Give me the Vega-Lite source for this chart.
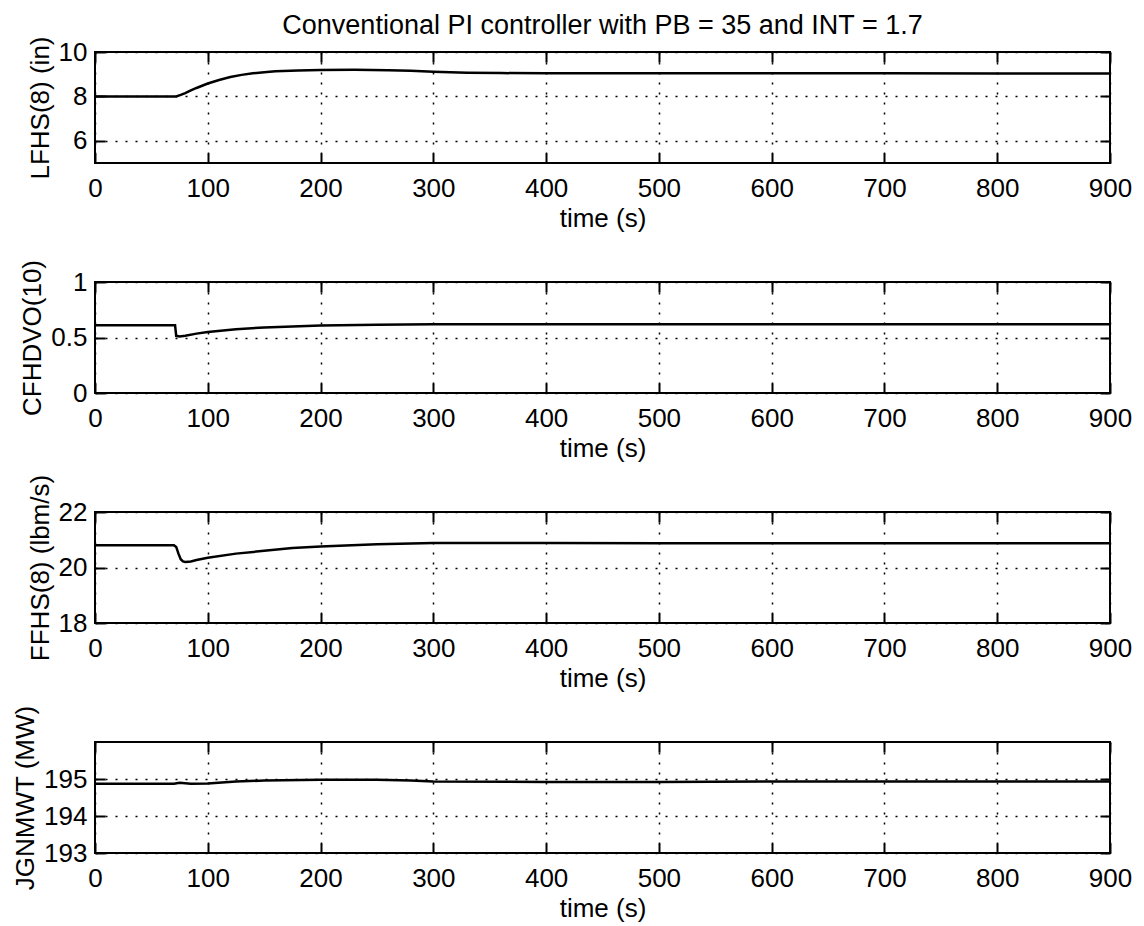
{
  "$schema": "https://vega.github.io/schema/vega-lite/v6.json",
  "background": "white",
  "padding": {"left": 11, "top": 10, "right": 0, "bottom": 0},
  "bounds": "flush",
  "spacing": 119,
  "datasets": {
    "p1": [
      {"t": 0, "v": 8.0}, {"t": 72, "v": 8.0}, {"t": 76, "v": 8.07}, {"t": 80, "v": 8.15}, {"t": 85, "v": 8.27},
      {"t": 90, "v": 8.38}, {"t": 95, "v": 8.48}, {"t": 100, "v": 8.58}, {"t": 110, "v": 8.74}, {"t": 120, "v": 8.87},
      {"t": 130, "v": 8.97}, {"t": 140, "v": 9.04}, {"t": 150, "v": 9.09}, {"t": 160, "v": 9.13}, {"t": 180, "v": 9.17},
      {"t": 200, "v": 9.19}, {"t": 230, "v": 9.2}, {"t": 260, "v": 9.18}, {"t": 280, "v": 9.15}, {"t": 300, "v": 9.11},
      {"t": 330, "v": 9.07}, {"t": 360, "v": 9.05}, {"t": 400, "v": 9.04}, {"t": 500, "v": 9.04}, {"t": 600, "v": 9.04},
      {"t": 700, "v": 9.04}, {"t": 800, "v": 9.03}, {"t": 900, "v": 9.03}
    ],
    "p2": [
      {"t": 0, "v": 0.61}, {"t": 71, "v": 0.61}, {"t": 72, "v": 0.515}, {"t": 75, "v": 0.51}, {"t": 80, "v": 0.515},
      {"t": 90, "v": 0.535}, {"t": 100, "v": 0.55}, {"t": 125, "v": 0.575}, {"t": 150, "v": 0.59}, {"t": 175, "v": 0.6},
      {"t": 200, "v": 0.607}, {"t": 250, "v": 0.615}, {"t": 300, "v": 0.62}, {"t": 400, "v": 0.62}, {"t": 500, "v": 0.62},
      {"t": 600, "v": 0.62}, {"t": 700, "v": 0.62}, {"t": 800, "v": 0.62}, {"t": 900, "v": 0.62}
    ],
    "p3": [
      {"t": 0, "v": 20.8}, {"t": 70, "v": 20.8}, {"t": 72, "v": 20.74}, {"t": 74, "v": 20.5}, {"t": 76, "v": 20.3},
      {"t": 78, "v": 20.22}, {"t": 80, "v": 20.2}, {"t": 85, "v": 20.22}, {"t": 90, "v": 20.27}, {"t": 100, "v": 20.35},
      {"t": 125, "v": 20.5}, {"t": 150, "v": 20.6}, {"t": 175, "v": 20.7}, {"t": 200, "v": 20.76}, {"t": 250, "v": 20.84},
      {"t": 300, "v": 20.88}, {"t": 400, "v": 20.88}, {"t": 500, "v": 20.87}, {"t": 600, "v": 20.87}, {"t": 700, "v": 20.87},
      {"t": 800, "v": 20.87}, {"t": 900, "v": 20.87}
    ],
    "p4": [
      {"t": 0, "v": 194.87}, {"t": 70, "v": 194.87}, {"t": 75, "v": 194.9}, {"t": 85, "v": 194.87}, {"t": 100, "v": 194.88},
      {"t": 125, "v": 194.93}, {"t": 150, "v": 194.96}, {"t": 200, "v": 194.98}, {"t": 250, "v": 194.98}, {"t": 280, "v": 194.96},
      {"t": 300, "v": 194.93}, {"t": 400, "v": 194.92}, {"t": 500, "v": 194.92}, {"t": 600, "v": 194.93}, {"t": 700, "v": 194.93},
      {"t": 800, "v": 194.93}, {"t": 900, "v": 194.93}
    ]
  },
  "vconcat": [
    {
      "data": {"name": "p1"},
      "width": 1015, "height": 111,
      "title": {"text": "Conventional PI controller with PB = 35 and INT = 1.7", "font": "Liberation Sans", "fontSize": 27, "fontWeight": "normal", "color": "black", "anchor": "middle", "baseline": "alphabetic", "frame": "group", "offset": -25},
      "layer": [
        {"mark": {"type": "line", "color": "black", "strokeWidth": 2.5},
         "encoding": {
           "x": {"field": "t", "type": "quantitative", "scale": {"domain": [0, 900]}, "axis": {"title": "time (s)", "values": [0,100,200,300,400,500,600,700,800,900], "grid": true}},
           "y": {"field": "v", "type": "quantitative", "scale": {"domain": [5, 10]}, "axis": {"title": "LFHS(8) (in)", "values": [6, 8, 10], "grid": true, "orient": "left", "labelPadding": 18}}
         }},
        {"mark": {"type": "line", "opacity": 0},
         "encoding": {
           "x": {"field": "t", "type": "quantitative", "axis": {"orient": "top", "title": null, "labels": false, "grid": false, "values": [0,100,200,300,400,500,600,700,800,900]}},
           "y": {"field": "v", "type": "quantitative", "axis": {"orient": "right", "title": null, "labels": false, "grid": false, "values": [6, 8, 10]}}
         }}
      ],
      "resolve": {"axis": {"x": "independent", "y": "independent"}}
    },
    {
      "data": {"name": "p2"},
      "width": 1015, "height": 111,
      "layer": [
        {"mark": {"type": "line", "color": "black", "strokeWidth": 2.5},
         "encoding": {
           "x": {"field": "t", "type": "quantitative", "scale": {"domain": [0, 900]}, "axis": {"title": "time (s)", "values": [0,100,200,300,400,500,600,700,800,900], "grid": true}},
           "y": {"field": "v", "type": "quantitative", "scale": {"domain": [0, 1]}, "axis": {"title": "CFHDVO(10)", "values": [0, 0.5, 1], "grid": true, "orient": "left", "labelPadding": 18}}
         }},
        {"mark": {"type": "line", "opacity": 0},
         "encoding": {
           "x": {"field": "t", "type": "quantitative", "axis": {"orient": "top", "title": null, "labels": false, "grid": false, "values": [0,100,200,300,400,500,600,700,800,900]}},
           "y": {"field": "v", "type": "quantitative", "axis": {"orient": "right", "title": null, "labels": false, "grid": false, "values": [0, 0.5, 1]}}
         }}
      ],
      "resolve": {"axis": {"x": "independent", "y": "independent"}}
    },
    {
      "data": {"name": "p3"},
      "width": 1015, "height": 111,
      "layer": [
        {"mark": {"type": "line", "color": "black", "strokeWidth": 2.5},
         "encoding": {
           "x": {"field": "t", "type": "quantitative", "scale": {"domain": [0, 900]}, "axis": {"title": "time (s)", "values": [0,100,200,300,400,500,600,700,800,900], "grid": true}},
           "y": {"field": "v", "type": "quantitative", "scale": {"domain": [18, 22]}, "axis": {"title": "FFHS(8) (lbm/s)", "values": [18, 20, 22], "grid": true, "orient": "left", "labelPadding": 18}}
         }},
        {"mark": {"type": "line", "opacity": 0},
         "encoding": {
           "x": {"field": "t", "type": "quantitative", "axis": {"orient": "top", "title": null, "labels": false, "grid": false, "values": [0,100,200,300,400,500,600,700,800,900]}},
           "y": {"field": "v", "type": "quantitative", "axis": {"orient": "right", "title": null, "labels": false, "grid": false, "values": [18, 20, 22]}}
         }}
      ],
      "resolve": {"axis": {"x": "independent", "y": "independent"}}
    },
    {
      "data": {"name": "p4"},
      "width": 1015, "height": 111,
      "layer": [
        {"mark": {"type": "line", "color": "black", "strokeWidth": 2.5},
         "encoding": {
           "x": {"field": "t", "type": "quantitative", "scale": {"domain": [0, 900]}, "axis": {"title": "time (s)", "values": [0,100,200,300,400,500,600,700,800,900], "grid": true}},
           "y": {"field": "v", "type": "quantitative", "scale": {"domain": [193, 196]}, "axis": {"title": "JGNMWT (MW)", "values": [193, 194, 195], "grid": true, "orient": "left", "labelPadding": 18}}
         }},
        {"mark": {"type": "line", "opacity": 0},
         "encoding": {
           "x": {"field": "t", "type": "quantitative", "axis": {"orient": "top", "title": null, "labels": false, "grid": false, "values": [0,100,200,300,400,500,600,700,800,900]}},
           "y": {"field": "v", "type": "quantitative", "axis": {"orient": "right", "title": null, "labels": false, "grid": false, "values": [193, 194, 195]}}
         }}
      ],
      "resolve": {"axis": {"x": "independent", "y": "independent"}}
    }
  ],
  "config": {
    "view": {"stroke": "black", "strokeWidth": 2},
    "axis": {
      "domain": false,
      "labelFont": "Liberation Sans", "labelFontSize": 26, "labelColor": "black",
      "titleFont": "Liberation Sans", "titleFontSize": 26, "titleFontWeight": "normal", "titleColor": "black",
      "tickColor": "black", "tickWidth": 2, "tickSize": -10,
      "gridColor": "black", "gridDash": [2, 8], "gridWidth": 1.5, "gridOpacity": 1,
      "labelFlush": false, "labelOverlap": false,
      "labelExpr": "'' + datum.value"
    },
    "axisX": {"labelPadding": 22, "titlePadding": 4},
    "axisY": {"titlePadding": 5}
  }
}
